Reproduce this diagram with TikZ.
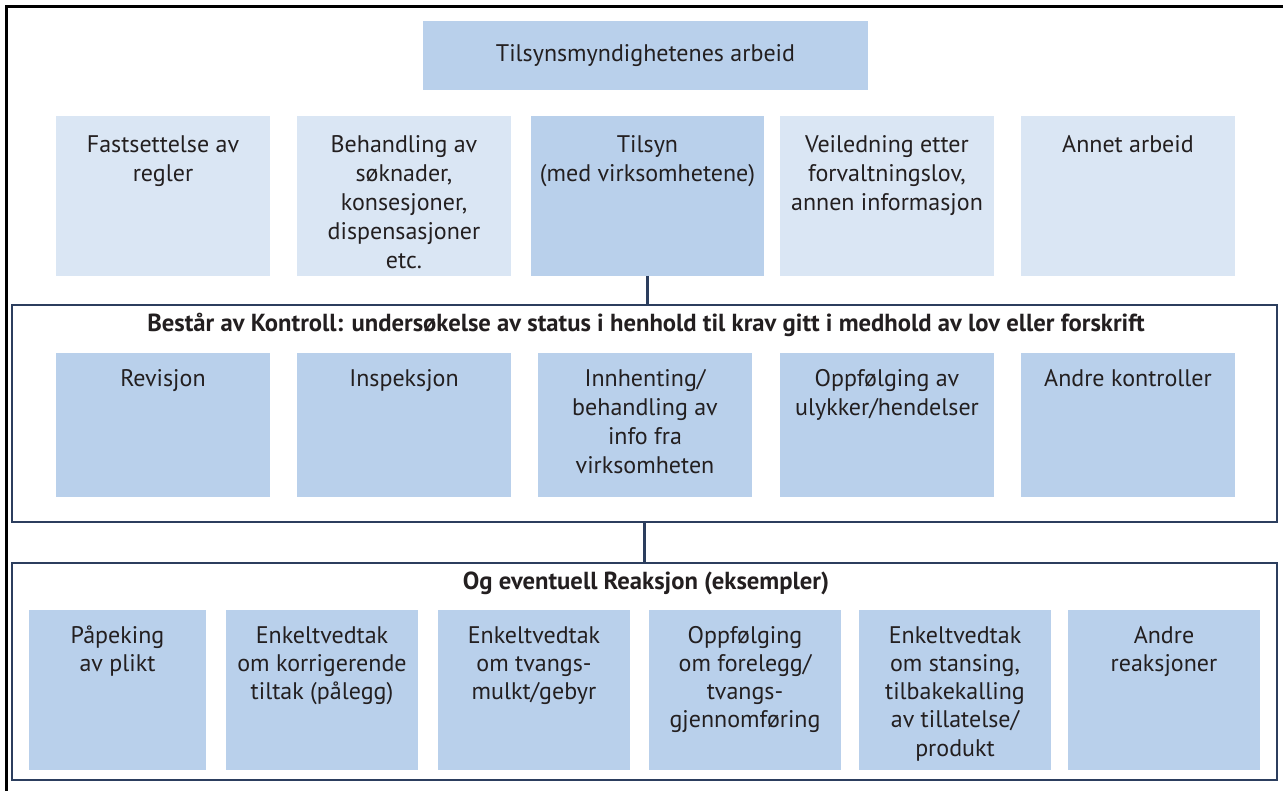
\documentclass[tikz,border=0pt]{standalone}
\usepackage{fontspec}
\setmainfont{PT Sans}
\usetikzlibrary{positioning}
\definecolor{boxblue}{HTML}{B9D0EB}
\definecolor{paleblue}{HTML}{DAE6F4}
\definecolor{navy}{HTML}{2C3E5E}
\definecolor{ink}{HTML}{231F20}
% width, height, top gap, text
\newcommand{\cellbox}[4]{\parbox[t][#2][t]{#1}{\centering\vspace*{#3}\strut#4\par}}

\begin{document}
\begin{tikzpicture}[
  x=0.75pt, y=-0.75pt,
  cell/.style={inner sep=0pt, outer sep=0pt, text=ink, anchor=north west,
    font=\fontsize{18}{21.75}\selectfont},
  pale/.style={cell, fill=paleblue},
  dark/.style={cell, fill=boxblue},
  frame/.style={draw=navy, line width=1.6pt, inner sep=0pt, outer sep=0pt,
    anchor=north west, minimum width=948.75pt, minimum height=162.75pt},
  title/.style={text=ink, inner sep=0pt, font=\bfseries\fontsize{18.5}{22}\selectfont},
  link/.style={draw=navy, line width=2pt}
]
\useasboundingbox (0,0) rectangle (1283,791);
\draw[line width=1.6pt] (6.5,791) -- (6.5,6.5) -- (1283,6.5);

% top level
\node[dark, minimum width=333.75pt, minimum height=51.75pt] (arbeid) at (423,21) {Tilsynsmyndighetenes arbeid};

\node[pale] (regler)   at (56,116)   {\cellbox{160.5pt}{120pt}{12.5pt}{Fastsettelse av\\ regler}};
\node[pale] (soknad)   at (297,116)  {\cellbox{160.5pt}{120pt}{12.5pt}{Behandling av\\ søknader,\\ konsesjoner,\\ dispensasjoner\\ etc.}};
\node[dark] (tilsyn)   at (531,116)  {\cellbox{174.75pt}{120pt}{12.5pt}{Tilsyn\\ (med virksomhetene)}};
\node[pale] (veiled)   at (780,116)  {\cellbox{160.5pt}{120pt}{12.5pt}{Veiledning etter\\ forvaltningslov,\\ annen informasjon}};
\node[pale] (annet)    at (1021,116) {\cellbox{160.5pt}{120pt}{12.5pt}{Annet arbeid}};

% kontroll
\node[frame] (kframe) at (12,305) {};
\node[title] (kontroll) at (646,325) {Består av Kontroll: undersøkelse av status i henhold til krav gitt i medhold av lov eller forskrift};

\node[dark] (revisjon)  at (56,353)   {\cellbox{160.5pt}{108pt}{10pt}{Revisjon}};
\node[dark] (inspeksj)  at (297,353)  {\cellbox{160.5pt}{108pt}{10pt}{Inspeksjon}};
\node[dark] (innhent)   at (538,353)  {\cellbox{160.5pt}{108pt}{10pt}{Innhenting/\\ behandling av\\ info fra\\ virksomheten}};
\node[dark] (ulykker)   at (780,353)  {\cellbox{160.5pt}{108pt}{10pt}{Oppfølging av\\ ulykker/hendelser}};
\node[dark] (andrekon)  at (1021,353) {\cellbox{160.5pt}{108pt}{10pt}{Andre kontroller}};

% reaksjon
\node[frame] (rframe) at (12,563) {};
\node[title] (reaksjon) at (646,583) {Og eventuell Reaksjon (eksempler)};

\node[dark, font=\fontsize{18}{21.2}\selectfont] (plikt)    at (29,610)   {\cellbox{132.75pt}{120pt}{10pt}{Påpeking\\ av plikt}};
\node[dark, font=\fontsize{18}{21.2}\selectfont] (palegg)   at (226,610)  {\cellbox{144pt}{120pt}{10pt}{Enkeltvedtak\\ om korrigerende\\ tiltak (pålegg)}};
\node[dark, font=\fontsize{18}{21.2}\selectfont] (mulkt)    at (438,610)  {\cellbox{144pt}{120pt}{10pt}{Enkeltvedtak\\ om tvangs-\\ mulkt/gebyr}};
\node[dark, font=\fontsize{18}{21.2}\selectfont] (forelegg) at (649,610)  {\cellbox{144pt}{120pt}{10pt}{Oppfølging\\ om forelegg/\\ tvangs-\\ gjennomføring}};
\node[dark, font=\fontsize{18}{21.2}\selectfont] (stansing) at (859,610)  {\cellbox{144pt}{120pt}{10pt}{Enkeltvedtak\\ om stansing,\\ tilbakekalling\\ av tillatelse/\\ produkt}};
\node[dark, font=\fontsize{18}{21.2}\selectfont] (andrereak) at (1068,610) {\cellbox{144pt}{120pt}{10pt}{Andre\\ reaksjoner}};

\draw[link] (tilsyn.south) -- (tilsyn.south |- kframe.north);
\draw[link] (kframe.south) -- (rframe.north);
\end{tikzpicture}
\end{document}
